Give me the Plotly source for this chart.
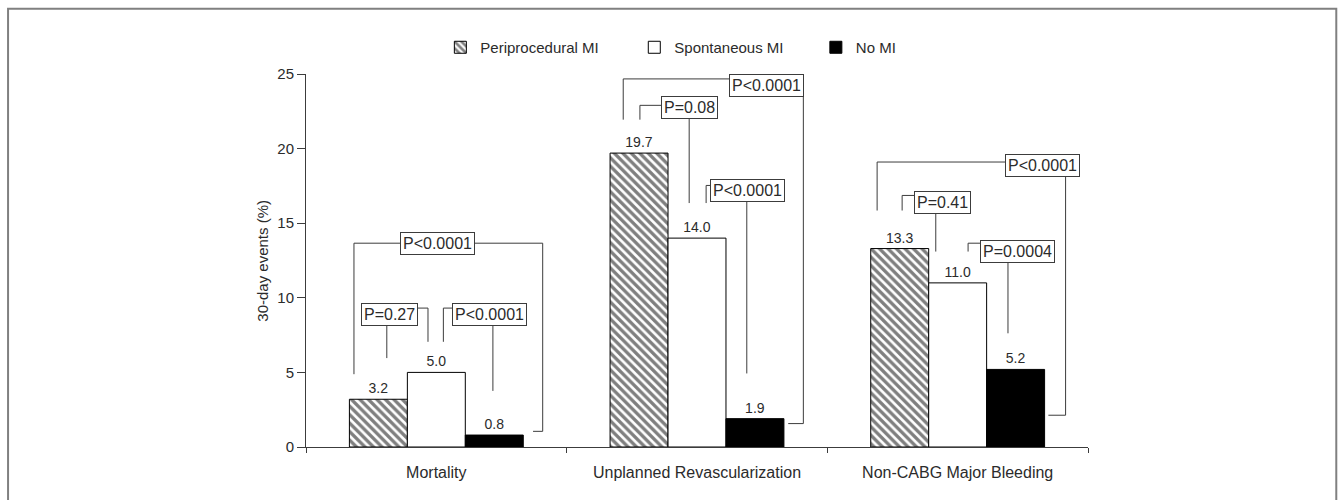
import plotly.graph_objects as go

# ---------------- data ----------------
categories = ["Mortality", "Unplanned Revascularization", "Non-CABG Major Bleeding"]
series_names = ["Periprocedural MI", "Spontaneous MI", "No MI"]
periprocedural_mi = [3.2, 19.7, 13.3]
spontaneous_mi = [5.0, 14.0, 11.0]
no_mi = [0.8, 1.9, 5.2]
# p-values per category: [PP vs No MI, PP vs Spont, Spont vs No MI]
p_values = [
    ["P<0.0001", "P=0.27", "P<0.0001"],
    ["P<0.0001", "P=0.08", "P<0.0001"],
    ["P<0.0001", "P=0.41", "P=0.0004"],
]
y_ticks = [0, 5, 10, 15, 20, 25]
y_title = "30-day events (%)"

# ---------------- bracket layout (x offset from category centre, y level) ----------------
bracket_layout = [
    [  # Mortality
        dict(box=(0.003, 13.66), lines=[[(-0.316, 4.88), (-0.316, 13.66), (0.408, 13.66), (0.408, 1.05), (0.371, 1.05)]]),
        dict(box=(-0.178, 8.91), lines=[[(-0.190, 8.91), (-0.190, 5.96)], [(-0.178, 9.31), (-0.032, 9.31), (-0.032, 7.05)]]),
        dict(box=(0.205, 8.91), lines=[[(0.205, 9.31), (0.027, 9.31), (0.027, 7.05)], [(0.217, 8.91), (0.217, 3.76)]]),
    ],
    [  # Unplanned Revascularization
        dict(box=(0.267, 24.2), lines=[[(-0.283, 21.94), (-0.283, 24.67), (0.408, 24.67), (0.408, 1.57), (0.350, 1.57)]]),
        dict(box=(-0.027, 22.73), lines=[[(-0.027, 22.9), (-0.219, 22.9), (-0.219, 21.94)], [(-0.030, 22.73), (-0.030, 16.35)]]),
        dict(box=(0.195, 17.22), lines=[[(0.195, 17.53), (0.035, 17.53), (0.035, 16.35)], [(0.191, 17.22), (0.191, 4.93)]]),
    ],
    [  # Non-CABG Major Bleeding
        dict(box=(0.324, 18.87), lines=[[(-0.309, 15.85), (-0.309, 19.1), (0.414, 19.1), (0.414, 2.13), (0.348, 2.13)]]),
        dict(box=(-0.060, 16.4), lines=[[(-0.060, 16.86), (-0.213, 16.86), (-0.213, 15.85)], [(-0.084, 16.4), (-0.084, 13.1)]]),
        dict(box=(0.229, 13.1), lines=[[(0.229, 13.66), (0.040, 13.66), (0.040, 13.1)], [(0.193, 13.1), (0.193, 7.62)]]),
    ],
]

FONT = "Liberation Sans, Arial, Helvetica, sans-serif"
TEXT = "#2b2b2b"
LINE = "#3c3c3c"

fig = go.Figure()

marker_styles = [
    dict(color="white", line=dict(color="black", width=1),
         pattern=dict(shape="\\", fgcolor="black", bgcolor="white", size=6, solidity=0.55)),
    dict(color="white", line=dict(color="black", width=1)),
    dict(color="black", line=dict(color="black", width=1)),
]
values = [periprocedural_mi, spontaneous_mi, no_mi]
legend_ids = ["legend", "legend2", "legend3"]

for name, vals, mk, lg in zip(series_names, values, marker_styles, legend_ids):
    fig.add_trace(go.Bar(
        x=categories, y=vals, name=name, marker=mk,
        text=vals, texttemplate="%{y:.1f}", textposition="outside",
        textfont=dict(size=14, color=TEXT, family=FONT),
        cliponaxis=False, legend=lg, showlegend=True,
    ))

shapes = []
annotations = []
for gi, group in enumerate(bracket_layout):
    for bi, br in enumerate(group):
        for poly in br["lines"]:
            for (xa, ya), (xb, yb) in zip(poly[:-1], poly[1:]):
                shapes.append(dict(type="line", xref="x", yref="y",
                                   x0=gi + xa, y0=ya, x1=gi + xb, y1=yb,
                                   line=dict(color=LINE, width=1)))
        bx, by = br["box"]
        annotations.append(dict(
            x=gi + bx, y=by, xref="x", yref="y", text=p_values[gi][bi],
            showarrow=False, xanchor="center", yanchor="middle",
            font=dict(size=16, color=TEXT, family=FONT),
            bgcolor="white", bordercolor=LINE, borderwidth=1, borderpad=2,
        ))

# y-axis title
annotations.append(dict(x=-0.056, y=0.5, xref="paper", yref="paper", text=y_title,
                        textangle=-90, showarrow=False, xanchor="center", yanchor="middle",
                        font=dict(size=15, color=TEXT, family=FONT)))

# outer frame
shapes.append(dict(type="rect", xref="paper", yref="paper",
                   x0=-0.381, x1=1.3175, y0=-0.35, y1=1.1749,
                   line=dict(color="#808080", width=2), fillcolor="rgba(0,0,0,0)", layer="below"))

legend_common = dict(orientation="h", yanchor="middle", y=1.071, xanchor="left",
                     font=dict(size=15, color=TEXT, family=FONT),
                     bgcolor="rgba(0,0,0,0)", borderwidth=0)

fig.update_layout(
    width=1342, height=500,
    margin=dict(l=306, r=253.7, t=74.4, b=53.3, autoexpand=False),
    paper_bgcolor="white", plot_bgcolor="white",
    barmode="group", bargap=0.333, bargroupgap=0,
    font=dict(family=FONT, color=TEXT),
    shapes=shapes, annotations=annotations,
    legend=dict(legend_common, x=0.1718),
    legend2=dict(legend_common, x=0.4198),
    legend3=dict(legend_common, x=0.652),
    xaxis=dict(type="category", tickson="boundaries", ticks="outside", ticklen=5,
               tickcolor=LINE, showline=True, linecolor=LINE, linewidth=1,
               showgrid=False, automargin=False, ticklabelstandoff=11,
               tickfont=dict(size=16, color=TEXT, family=FONT)),
    yaxis=dict(range=[0, 25], tickvals=y_ticks, ticks="outside", ticklen=8,
               tickcolor=LINE, showline=True, linecolor=LINE, linewidth=1,
               showgrid=False, zeroline=False, automargin=False,
               tickfont=dict(size=15, color=TEXT, family=FONT)),
)

fig.write_html("out.html", config={"displayModeBar": False},
               post_script="document.body.style.margin='0px';")
